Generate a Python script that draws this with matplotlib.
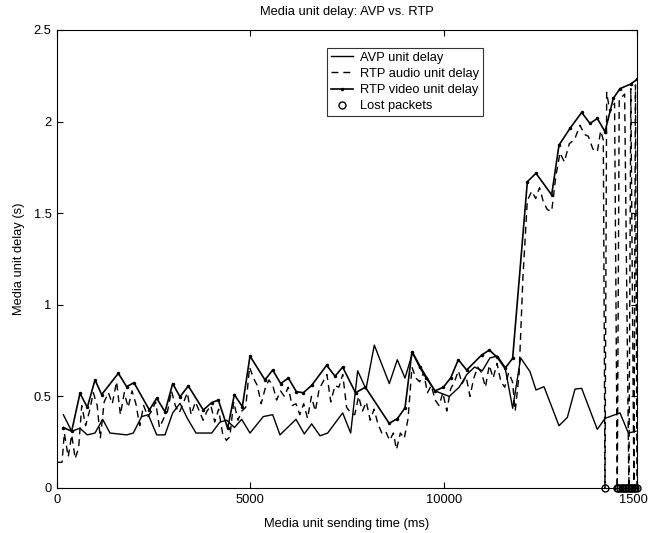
import matplotlib
matplotlib.use("Agg")
import matplotlib.pyplot as plt

plt.rcParams['font.family'] = ['Liberation Sans', 'DejaVu Sans']
plt.rcParams['font.size'] = 9.3

# AVP unit delay (ms, s)
avp_t = [164, 379, 595, 784, 983, 1181, 1370, 1801, 1974, 2190, 2362, 2578, 2793, 2992,
         3181, 3371, 3595, 4000, 4215, 4388, 4590, 4776, 4991, 5336, 5578, 5767, 6181,
         6396, 6586, 6802, 7000, 7388, 7595, 7776, 7991, 8206, 8594, 8801, 9000, 9198,
         9431, 9776, 10145, 10400, 10600, 10800, 11000, 11197, 11387, 11586, 11785,
         11991, 12233, 12388, 12595, 12983, 13198, 13397, 13569, 13973, 14172, 14560,
         14776, 14974]
avp_d = [0.40, 0.31, 0.326, 0.29, 0.30, 0.375, 0.30, 0.29, 0.30, 0.39, 0.40, 0.29, 0.29, 0.41,
         0.462, 0.38, 0.30, 0.30, 0.36, 0.37, 0.33, 0.375, 0.30, 0.39, 0.40, 0.29, 0.375,
         0.295, 0.35, 0.285, 0.30, 0.41, 0.30, 0.64, 0.54, 0.78, 0.57, 0.70, 0.60, 0.74,
         0.65, 0.53, 0.50, 0.55, 0.62, 0.66, 0.64, 0.71, 0.72, 0.66, 0.435,
         0.71, 0.635, 0.535, 0.553, 0.34, 0.385, 0.54, 0.544, 0.32, 0.38, 0.41,
         0.30, 0.31]

# RTP video unit delay
video_t = [164, 379, 595, 784, 983, 1155, 1586, 1801, 1991, 2388, 2578, 2793, 2992, 3181,
           3396, 3784, 4000, 4172, 4414, 4586, 4793, 4991, 5379, 5578, 5785, 5983, 6190,
           6370, 6586, 6974, 7190, 7388, 7720, 7975, 8590, 8800, 9000, 9180, 9380, 9552,
           9776, 9990, 10180, 10379, 10595, 10983, 11181, 11387, 11586, 11784, 12164,
           12388, 12793, 12983, 13267, 13569, 13784, 13974, 14172, 14388, 14560, 14836,
           15000]
video_d = [0.33, 0.31, 0.517, 0.44, 0.59, 0.51, 0.626, 0.553, 0.575, 0.426, 0.49, 0.416, 0.57, 0.498,
           0.557, 0.426, 0.466, 0.48, 0.326, 0.51, 0.444, 0.72, 0.59, 0.644, 0.57, 0.60, 0.526,
           0.52, 0.56, 0.67, 0.61, 0.66, 0.52, 0.55, 0.353, 0.378, 0.437, 0.744, 0.66, 0.60,
           0.53, 0.55, 0.60, 0.70, 0.644, 0.726, 0.753, 0.713, 0.653, 0.708, 1.672,
           1.718, 1.60, 1.872, 1.963, 2.05, 1.99, 2.017, 1.945, 2.127, 2.18, 2.205,
           2.23]

# RTP audio unit delay
audio_t = [0, 130, 190, 290, 380, 470, 560, 640, 740, 840, 940, 1040, 1120, 1220, 1330, 1430,
           1540, 1640, 1740, 1840, 1940, 2040, 2140, 2240, 2350, 2450, 2550, 2650, 2760, 2860,
           2960, 3060, 3160, 3260, 3370, 3470, 3580, 3680, 3780, 3880, 3980, 4080, 4180, 4280,
           4380, 4470, 4570, 4680, 4780, 4880, 4980, 5080, 5180, 5280, 5380, 5480, 5580, 5680,
           5780, 5880, 5980, 6080, 6180, 6280, 6380, 6480, 6580, 6680, 6780, 6880, 6980, 7080,
           7190, 7290, 7390, 7490, 7600, 7700, 7800, 7900, 8000, 8100, 8200, 8300, 8400, 8500,
           8600, 8700, 8780, 8880, 8980, 9080, 9180, 9280, 9380, 9480, 9580, 9680, 9780, 9880,
           9980, 10080, 10180, 10280, 10380, 10480, 10580, 10680, 10780, 10880, 10980, 11080,
           11180, 11280, 11380, 11480, 11580, 11680, 11780, 11850, 11950, 12050, 12164, 12280,
           12380, 12480, 12580, 12680, 12793, 12900, 13009, 13120, 13250, 13380, 13526, 13640,
           13741, 13860, 13974, 14060, 14129, 14172, 14216, 14300, 14420, 14490, 14540, 14680,
           14790, 14840, 14920, 14960, 15000]
audio_d = [0.14, 0.14, 0.30, 0.17, 0.29, 0.16, 0.22, 0.45, 0.34, 0.42, 0.52, 0.45, 0.27, 0.47, 0.52, 0.46,
           0.58, 0.40, 0.52, 0.44, 0.53, 0.46, 0.34, 0.45, 0.39, 0.42, 0.47, 0.33, 0.38, 0.42,
           0.53, 0.45, 0.41, 0.46, 0.52, 0.40, 0.47, 0.42, 0.37, 0.42, 0.45, 0.36, 0.43, 0.30,
           0.26, 0.28, 0.47, 0.37, 0.42, 0.44, 0.66, 0.60, 0.56, 0.46, 0.54, 0.59, 0.56, 0.48,
           0.53, 0.50, 0.55, 0.45, 0.46, 0.40, 0.46, 0.38, 0.50, 0.42, 0.54, 0.58, 0.62, 0.47,
           0.56, 0.55, 0.62, 0.44, 0.41, 0.40, 0.50, 0.42, 0.47, 0.37, 0.43, 0.35, 0.30, 0.31,
           0.26, 0.30, 0.21, 0.30, 0.27, 0.38, 0.66, 0.60, 0.58, 0.63, 0.52, 0.56, 0.48, 0.45,
           0.52, 0.42, 0.54, 0.58, 0.64, 0.57, 0.61, 0.50, 0.60, 0.66, 0.63, 0.55,
           0.67, 0.60, 0.68, 0.58, 0.55, 0.63, 0.58, 0.42, 0.62, 1.15, 1.57, 1.62,
           1.58, 1.64, 1.56, 1.52, 1.51, 1.70, 1.83, 1.78, 1.88, 1.90, 1.98, 1.93,
           1.92, 1.85, 1.835, 1.95, 1.90, 0.0, 2.16, 2.05, 2.10, 0.0, 2.12, 2.15,
           0.0, 2.18, 0.0, 2.20, 0.0]

# lost packets
lost_t = [14172, 14480, 14520, 14560, 14600, 14640, 14680, 14720, 14760, 14800,
          14840, 14880, 14920, 14960, 14990]
lost_d = [0] * len(lost_t)

fig = plt.figure(figsize=(6.48, 5.33), dpi=100)
ax = fig.add_axes([57 / 648, 45 / 533, 580 / 648, 458 / 533])

ax.plot(avp_t, avp_d, '-', color='black', lw=1.0, label='AVP unit delay')
ax.plot(audio_t, audio_d, '--', color='black', lw=1.0, dashes=(5, 3.5), label='RTP audio unit delay')
ax.plot(video_t, video_d, '.-', color='black', lw=1.2, ms=3, label='RTP video unit delay')
ax.plot(lost_t, lost_d, 'o', color='black', mfc='none', ms=5, mew=1.0, clip_on=False,
        label='Lost packets')

ax.set_xlim(0, 15000)
ax.set_ylim(0, 2.5)
ax.set_xticks([0, 5000, 10000, 15000])
ax.set_yticks([0, 0.5, 1, 1.5, 2, 2.5])
ax.set_yticklabels(['0', '0.5', '1', '1.5', '2', '2.5'])
ax.tick_params(direction='in', length=4, top=True, right=True, labelsize=9.3, pad=4)
for s in ax.spines.values():
    s.set_linewidth(0.8)

ax.set_title('Media unit delay: AVP vs. RTP', fontsize=9.3, pad=11)
ax.set_xlabel('Media unit sending time (ms)', fontsize=9.3, labelpad=9)
ax.set_ylabel('Media unit delay (s)', fontsize=9.3, labelpad=6)

leg = ax.legend(loc='upper left', bbox_to_anchor=(0.466, 0.961), fontsize=9.3,
                frameon=True, fancybox=False, handlelength=1.7, borderpad=0.3,
                labelspacing=0.32, handletextpad=0.55, borderaxespad=0)
leg.get_frame().set_edgecolor('black')
leg.get_frame().set_linewidth(0.8)

fig.savefig('out.png', dpi=100)
